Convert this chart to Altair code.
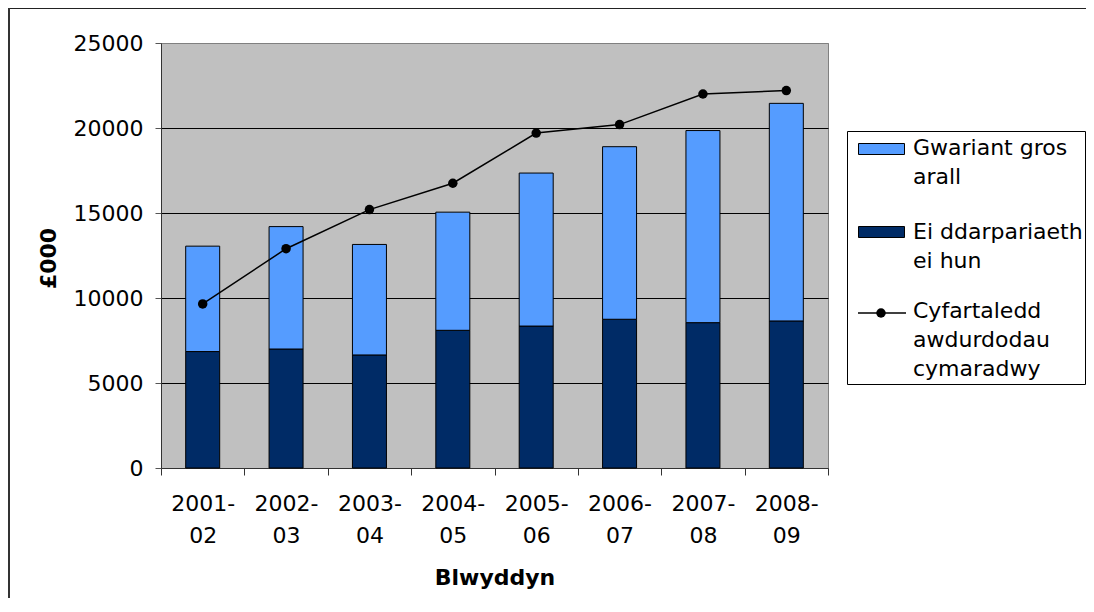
import altair as alt
import pandas as pd

years = ["2001-02", "2002-03", "2003-04", "2004-05", "2005-06", "2006-07", "2007-08", "2008-09"]
own_provision = [6850, 7000, 6650, 8100, 8350, 8750, 8550, 8650]
other_gross = [6200, 7200, 6500, 6950, 9000, 10150, 11300, 12800]
comparable_avg = [9650, 12900, 15200, 16750, 19700, 20200, 22000, 22200]

legend_other = ["Gwariant gros", "arall"]
legend_own = ["Ei ddarpariaeth", "ei hun"]
legend_avg = ["Cyfartaledd", "awdurdodau", "cymaradwy"]

LIGHT = "#559CFF"
DARK = "#002B66"
FONT = "DejaVu Sans"

df = pd.DataFrame({
    "year": years,
    "own": own_provision,
    "other": other_gross,
    "avg": comparable_avg,
})

W, H = 667, 425
one = pd.DataFrame({"k": [0]})

xenc = alt.X(
    "year:N",
    sort=years,
    scale=alt.Scale(paddingInner=0, paddingOuter=0),
    axis=alt.Axis(
        title="Blwyddyn",
        titleFontSize=22,
        titleFontWeight="bold",
        titleFont=FONT,
        titleBaseline="middle",
        titleY=109,
        labelExpr="[substring(datum.label, 0, 5), substring(datum.label, 5)]",
        labelAngle=0,
        labelFontSize=22,
        labelFont=FONT,
        labelColor="black",
        labelBaseline="top",
        labelLineHeight=32,
        labelPadding=18,
        tickBand="extent",
        tickSize=7,
        tickColor="#333333",
        domainColor="#333333",
        grid=False,
    ),
)

yscale = alt.Scale(domain=[0, 25000], nice=False)
yaxis = alt.Axis(
    title="£000",
    titleFontSize=22,
    titleFontWeight="bold",
    titleFont=FONT,
    titleX=-113,
    titleY=215,
    titleAngle=-90,
    titleAlign="center",
    titleBaseline="middle",
    values=[0, 5000, 10000, 15000, 20000, 25000],
    format="d",
    labelFontSize=22,
    labelFont=FONT,
    labelColor="black",
    labelPadding=12,
    tickSize=6,
    tickColor="#555555",
    domainColor="#333333",
    grid=True,
    gridColor={"condition": {"test": "datum.value >= 25000 || datum.value <= 0",
                             "value": "#808080"}, "value": "#000000"},
)

base = alt.Chart(df)

own_bars = base.mark_bar(size=34, color=DARK, stroke="black", strokeWidth=1).encode(
    x=xenc,
    y=alt.Y("own:Q", scale=yscale, axis=yaxis),
)

other_bars = base.transform_calculate(total="datum.own + datum.other").mark_bar(
    size=34, color=LIGHT, stroke="black", strokeWidth=1
).encode(
    x=alt.X("year:N", sort=years),
    y=alt.Y("own:Q", scale=yscale),
    y2="total:Q",
)

avg_line = base.mark_line(
    color="black", strokeWidth=1.5,
    point=alt.OverlayMarkDef(filled=True, color="black", size=90),
).encode(
    x=alt.X("year:N", sort=years),
    y=alt.Y("avg:Q", scale=yscale),
)

# outer chart border (extends past the visible area on the right and bottom)
border = alt.Chart(one).mark_rect(filled=False, stroke="#222222", strokeWidth=1).encode(
    x=alt.value(-152.5), x2=alt.value(2000), y=alt.value(-34.5), y2=alt.value(2000)
)
border_left = alt.Chart(one).mark_rule(color="#333333", strokeWidth=2).encode(
    x=alt.value(-152), y=alt.value(-35), y2=alt.value(2000)
)

# legend
leg_box = alt.Chart(one).mark_rect(filled=False, stroke="black", strokeWidth=1).encode(
    x=alt.value(686.5), x2=alt.value(924.5), y=alt.value(88.5), y2=alt.value(341.5)
)
leg_rect1 = alt.Chart(one).mark_rect(fill=LIGHT, stroke="black", strokeWidth=1).encode(
    x=alt.value(697.5), x2=alt.value(743.5), y=alt.value(100.5), y2=alt.value(111.5)
)
leg_rect2 = alt.Chart(one).mark_rect(fill=DARK, stroke="black", strokeWidth=1).encode(
    x=alt.value(697.5), x2=alt.value(743.5), y=alt.value(183.5), y2=alt.value(194.5)
)
leg_line = alt.Chart(one).mark_rule(color="black", strokeWidth=1.5).encode(
    x=alt.value(697), x2=alt.value(745), y=alt.value(270)
)
leg_dot = alt.Chart(one).mark_point(filled=True, color="black", size=90, opacity=1).encode(
    x=alt.value(720), y=alt.value(270)
)

def leg_text(lines, y):
    return alt.Chart(one).mark_text(
        text=lines, align="left", baseline="top", fontSize=22, font=FONT,
        lineHeight=29, color="black"
    ).encode(x=alt.value(752), y=alt.value(y))

leg_t1 = leg_text(legend_other, 95)
leg_t2 = leg_text(legend_own, 179)
leg_t3 = leg_text(legend_avg, 258)

chart = alt.layer(
    border, border_left, own_bars, other_bars, avg_line,
    leg_box, leg_rect1, leg_rect2, leg_line, leg_dot, leg_t1, leg_t2, leg_t3,
).properties(
    width=W,
    height=H,
    padding={"left": 153, "top": 35, "right": 258, "bottom": 130},
    autosize=alt.AutoSizeParams(type="none"),
    background="white",
).configure_view(
    fill="#C0C0C0", stroke="#808080", strokeWidth=1
).configure_axis(
    zindex=0
)

chart.save("out.html", embed_options={"renderer": "svg", "actions": False})
